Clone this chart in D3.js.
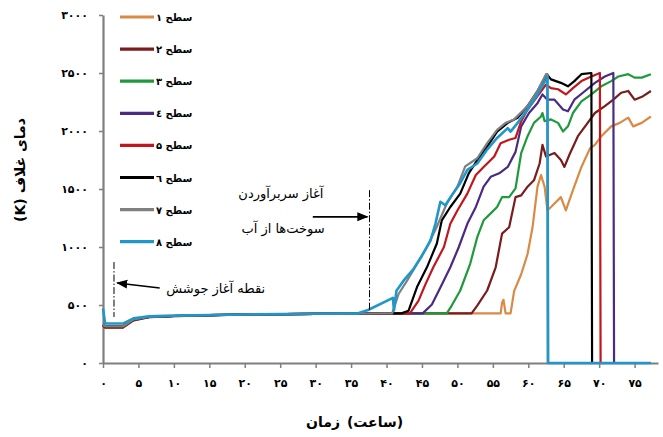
<!DOCTYPE html>
<html><head><meta charset="utf-8">
<script src="https://cdn.jsdelivr.net/npm/d3@7"></script>
<style>
html,body{margin:0;padding:0;background:#fff;}
svg{display:block;font-family:"DejaVu Sans",sans-serif;}
</style></head>
<body>
<svg id="chart" width="663" height="437"></svg>
<script>
// ---------- data ----------
const seriesNames = ["سطح ۱","سطح ۲","سطح ۳","سطح ٤","سطح ۵","سطح ٦","سطح ۷","سطح ۸"];
const seriesColors = ["#d98a45","#7a1c1c","#1e9a3c","#4a2a82","#c2161c","#000000","#808080","#2196c9"];
const xTicks = [0,5,10,15,20,25,30,35,40,45,50,55,60,65,70,75];
const yTicks = [0,500,1000,1500,2000,2500,3000];
const xTitleWord = "زمان";
const xTitleUnit = "(ساعت)";
const yTitle = "دمای غلاف (K)";

// common early period (hours, K)
const baseline = [[0,330],[0.3,315],[2.8,315],[4.3,375],[6.5,398],[10,405],[15,412],[20,418],[30,424],[40,428]];
const baselineLow = [[0,320],[0.3,305],[2.8,305],[4.3,368],[6.5,395],[10,404],[15,411],[20,418],[30,424],[40,428]];
const baselineBlue = [[0,470],[0.3,340],[2.8,340],[4.3,385],[6.5,402],[10,408],[20,418],[30,424],[36,428],[37.4,457],[40.9,562],[41.05,452],[41.4,622]];

const s1 = [[56.1,428],[56.3,520],[56.5,545],[56.8,428],[57.5,428],[58,620],[59,765],[59.9,940],[60.6,1170],[61.3,1520],[61.8,1620],[62.3,1520],[62.7,1315],[63.7,1375],[64.6,1430],[65.3,1315],[66.3,1490],[67.5,1690],[68.7,1850],[69.4,1880],[70.3,1955],[71.7,2040],[72.9,2070],[74.1,2115],[74.8,2040],[76,2070],[77.3,2125]];
const s2 = [[52,428],[52.8,495],[54.2,625],[55.4,825],[56.3,1115],[57.3,1170],[58.2,1430],[59,1445],[59.9,1520],[60.8,1575],[61.6,1720],[62,1880],[62.5,1780],[63.7,1810],[64.6,1750],[65.1,1690],[65.8,1795],[67,1955],[68.2,2055],[69.4,2155],[70.8,2215],[72,2270],[73.1,2330],[74.1,2345],[75,2270],[76.2,2300],[77.3,2345]];
const s3 = [[48.5,428],[49.2,495],[50.4,625],[51.8,855],[52.8,1085],[53.7,1230],[54.7,1290],[55.6,1345],[56.3,1430],[57.3,1430],[58.2,1505],[59,1810],[59.9,1955],[60.8,2070],[61.8,2125],[62,2155],[62.3,2085],[63.2,2100],[64.2,2070],[64.9,1995],[65.6,2040],[66.3,2155],[67.5,2255],[68.9,2315],[70.3,2385],[71.7,2430],[72.7,2470],[74.1,2490],[75,2460],[76,2460],[77.3,2490]];
const s4 = [[45.1,428],[46.4,505],[47.6,650],[49,825],[50.2,1000],[51.4,1200],[52.6,1345],[53.7,1520],[54.7,1605],[55.9,1635],[57.1,1690],[58.2,1820],[59,2040],[60.1,2155],[61.3,2240],[62,2315],[62.7,2270],[63.7,2270],[64.9,2185],[65.6,2170],[66.5,2270],[68,2345],[69.4,2415],[70.8,2470],[72,2500],[72.1,0],[77.3,0]];
const s5 = [[43.3,428],[44.5,535],[45.5,680],[46.6,825],[48.1,1000],[49,1200],[50,1315],[51.4,1460],[52.6,1620],[53.7,1690],[55.2,1780],[56.1,1895],[57.3,1925],[58.2,1940],[59,2085],[59.9,2185],[61.3,2300],[62.5,2400],[63.2,2370],[64.2,2360],[65.3,2315],[66.3,2370],[67.5,2430],[68.9,2470],[70.1,2500],[70.2,0],[77.3,0]];
const s6 = [[42.1,428],[43.1,450],[44.3,655],[45.7,825],[47.1,1030],[47.8,1230],[49,1345],[50.4,1460],[51.6,1635],[52.8,1750],[54.2,1865],[55.6,1995],[57.1,2070],[58.5,2115],[59.9,2215],[61.3,2345],[62.6,2490],[63.2,2445],[64.6,2415],[65.6,2385],[66.5,2430],[67.5,2490],[68.9,2500],[69.0,0],[77.3,0]];
const s7 = [[40.8,428],[41.7,595],[42.9,710],[44.3,855],[45.7,1000],[47.1,1175],[48.5,1375],[50,1520],[51.1,1695],[52.8,1765],[54.2,1895],[55.6,2010],[56.8,2070],[58,2100],[59.9,2215],[61.3,2345],[62.5,2490],[62.7,2490],[62.75,0],[77.3,0]];
const s8 = [[42.4,710],[43.8,810],[45.0,925],[46.2,1055],[46.9,1200],[47.6,1390],[48.3,1360],[49.2,1445],[50.4,1550],[51.4,1665],[52.8,1720],[54.2,1840],[55.6,1940],[57.1,2025],[57.5,1995],[58.5,2070],[59.9,2185],[61.3,2315],[62.5,2445],[62.7,2470],[62.8,0],[77.3,0]];

// annotations: vertical markers (hours, K from, K to), arrows, labels
const markerLines = [[1.55,870,397],[37.6,1490,448]];
const arrows = [[8.0,647,2.0,690],[29.6,1260,37.3,1260]];
const annoTexts = [["نقطه آغاز جوشش",15.9,600],["آغاز سربرآوردن",25.1,1420],["سوخت‌ها از آب",25.4,1125]];

// ---------- build ----------
const series = [
  baselineLow.concat(s1), baselineLow.concat(s2), baseline.concat(s3), baseline.concat(s4),
  baseline.concat(s5), baseline.concat(s6), baseline.concat(s7), baselineBlue.concat(s8)
];

const svg = d3.select("#chart");
const x = d3.scaleLinear().domain([0,78.3]).range([103,658]);
const y = d3.scaleLinear().domain([0,3000]).range([363,15]);
const fa = n => String(n).replace(/\d/g, c => "۰۱۲۳۴۵۶۷۸۹"[+c]);

// axes
const gx = svg.append("g").attr("transform",`translate(0,${y(0)})`)
  .call(d3.axisBottom(x).tickValues(xTicks).tickFormat(fa).tickSize(5).tickSizeOuter(0).tickPadding(11));
const gy = svg.append("g").attr("transform",`translate(${x(0)},0)`)
  .call(d3.axisLeft(y).tickValues(yTicks).tickFormat(fa).tickSize(4).tickSizeOuter(0).tickPadding(11));
[gx,gy].forEach(g=>{
  g.select(".domain").attr("stroke","#7f7f7f").attr("stroke-width",2.2);
  g.selectAll(".tick line").attr("stroke","#7f7f7f").attr("stroke-width",1.5);
  g.selectAll(".tick text").attr("fill","#000").attr("font-size",11).attr("font-weight","bold")
   .attr("font-family","DejaVu Sans");
});

// lines
const line = d3.line().x(d=>x(d[0])).y(d=>y(d[1]));
svg.append("g").selectAll("path").data(series).join("path")
  .attr("d",line).attr("fill","none")
  .attr("stroke",(d,i)=>seriesColors[i])
  .attr("stroke-width",(d,i)=>i===7?2.6:2.2)
  .attr("stroke-linejoin","round");

// legend
const lg = svg.append("g");
seriesNames.forEach((nm,i)=>{
  const yy = 17 + i*32.1;
  lg.append("line").attr("x1",120).attr("x2",154).attr("y1",yy).attr("y2",yy)
    .attr("stroke",seriesColors[i]).attr("stroke-width",3.2);
  lg.append("text").attr("x",156).attr("y",yy+4).attr("font-size",10).attr("font-weight","bold")
    .attr("text-anchor","start").text(nm);
});

// annotation markers
svg.append("g").selectAll("line").data(markerLines).join("line")
  .attr("x1",d=>x(d[0])).attr("x2",d=>x(d[0])).attr("y1",d=>y(d[1])).attr("y2",d=>y(d[2]))
  .attr("stroke","#000").attr("stroke-width",1).attr("stroke-dasharray","7,2,1.5,2");

svg.append("defs").append("marker").attr("id","ah").attr("viewBox","0 0 10 10")
  .attr("refX",9).attr("refY",5).attr("markerWidth",7).attr("markerHeight",7).attr("orient","auto")
  .append("path").attr("d","M0,1 L10,5 L0,9 Z").attr("fill","#000");
svg.append("g").selectAll("line").data(arrows).join("line")
  .attr("x1",d=>x(d[0])).attr("y1",d=>y(d[1])).attr("x2",d=>x(d[2])).attr("y2",d=>y(d[3]))
  .attr("stroke","#000").attr("stroke-width",1.6).attr("marker-end","url(#ah)");

svg.append("g").selectAll("text").data(annoTexts).join("text")
  .attr("x",d=>x(d[1])).attr("y",d=>y(d[2])).attr("text-anchor","middle")
  .attr("font-size",13).text(d=>d[0]);

// titles (two words placed separately: word on the left, unit on the right)
svg.append("text").attr("x",323).attr("y",427).attr("text-anchor","middle")
  .attr("font-size",14).attr("font-weight","bold").text(xTitleWord);
svg.append("text").attr("x",375).attr("y",427).attr("text-anchor","middle")
  .attr("font-size",14).attr("font-weight","bold").text(xTitleUnit);
svg.append("text").attr("transform","translate(25,170) rotate(-90)").attr("text-anchor","middle")
  .attr("direction","rtl").attr("font-size",14).attr("font-weight","bold").text(yTitle);
</script>
</body></html>
